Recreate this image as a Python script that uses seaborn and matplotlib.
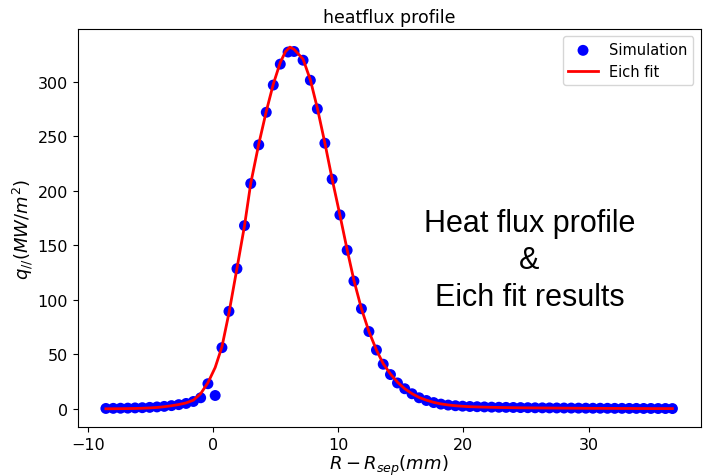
import matplotlib
matplotlib.use("Agg")
import matplotlib.pyplot as plt
import seaborn as sns
import pandas as pd

# Simulation points (R - Rsep in mm, q_parallel in MW/m^2)
sim_x = [-8.55, -7.96, -7.38, -6.80, -6.22, -5.64, -5.05, -4.47, -3.89, -3.31,
         -2.73, -2.14, -1.56, -0.98, -0.40, 0.18, 0.72, 1.28, 1.92, 2.52,
         3.02, 3.66, 4.26, 4.82, 5.38, 6.00, 6.48, 7.20, 7.78, 8.34,
         8.94, 9.52, 10.14, 10.72, 11.26, 11.86, 12.46, 13.06, 13.60, 14.18,
         14.74, 15.32, 15.90, 16.47, 17.05, 17.63, 18.21, 18.79, 19.37, 19.94,
         20.52, 21.10, 21.68, 22.26, 22.84, 23.41, 23.99, 24.57, 25.15, 25.73,
         26.31, 26.88, 27.46, 28.04, 28.62, 29.20, 29.78, 30.35, 30.93, 31.51,
         32.09, 32.67, 33.25, 33.82, 34.40, 34.98, 35.56, 36.14, 36.70]
sim_q = [0.4, 0.5, 0.6, 0.7, 0.9, 1.1, 1.4, 1.8, 2.3, 3.0,
         3.9, 5.0, 6.8, 10.2, 23.1, 12.3, 56.2, 89.5, 128.7, 168.2,
         206.8, 242.3, 272.2, 297.2, 316.4, 327.5, 328.0, 320.0, 301.6, 275.3,
         243.8, 210.8, 178.0, 145.6, 117.3, 91.9, 71.0, 54.0, 41.0, 31.5,
         23.8, 18.5, 13.9, 10.2, 7.7, 5.8, 4.4, 3.5, 2.9, 2.5,
         2.2, 2.0, 1.8, 1.6, 1.5, 1.4, 1.3, 1.2, 1.1, 1.0,
         0.95, 0.9, 0.85, 0.8, 0.75, 0.7, 0.65, 0.6, 0.6, 0.55,
         0.5, 0.5, 0.45, 0.45, 0.4, 0.4, 0.35, 0.35, 0.3]

# Eich fit curve
fit_x = [-8.55, -7.96, -7.38, -6.80, -6.22, -5.64, -5.05, -4.47, -3.89, -3.31,
         -2.73, -2.14, -1.56, -0.98, -0.40, 0.18, 0.72, 1.28, 1.92, 2.52,
         3.02, 3.66, 4.26, 4.82, 5.38, 5.80, 6.15, 6.48, 7.20, 7.78, 8.34,
         8.94, 9.52, 10.14, 10.72, 11.26, 11.86, 12.46, 13.06, 13.60, 14.18,
         14.74, 15.32, 15.90, 16.47, 17.05, 17.63, 18.21, 18.79, 19.37, 19.94,
         20.52, 21.10, 21.68, 22.26, 22.84, 23.41, 23.99, 24.57, 25.15, 25.73,
         26.31, 26.88, 27.46, 28.04, 28.62, 29.20, 29.78, 30.35, 30.93, 31.51,
         32.09, 32.67, 33.25, 33.82, 34.40, 34.98, 35.56, 36.14, 36.70]
fit_q = [0.1, 0.15, 0.2, 0.3, 0.4, 0.6, 0.9, 1.3, 2.0, 2.9,
         4.0, 5.5, 8.0, 14.0, 24.0, 38.0, 57.0, 88.0, 129.0, 168.0,
         207.0, 243.0, 273.0, 298.0, 318.0, 328.0, 332.0, 330.0, 321.0, 302.0, 276.0,
         244.0, 211.0, 178.0, 146.0, 118.0, 92.0, 71.0, 54.0, 41.5, 32.0,
         24.5, 18.5, 14.0, 10.5, 8.0, 6.0, 4.6, 3.6, 2.9, 2.4,
         2.0, 1.8, 1.6, 1.45, 1.3, 1.2, 1.1, 1.0, 0.95, 0.9,
         0.85, 0.8, 0.75, 0.7, 0.65, 0.6, 0.55, 0.5, 0.5, 0.45,
         0.45, 0.4, 0.4, 0.35, 0.35, 0.3, 0.3, 0.3, 0.3]

title = "heatflux profile"
x_label = r"$R - R_{sep}(mm)$"
y_label = r"$q_{//}(MW/m^2)$"
note = "Heat flux profile\n&\nEich fit results"

sim_df = pd.DataFrame({"x": sim_x, "q": sim_q})
fit_df = pd.DataFrame({"x": fit_x, "q": fit_q})

fig = plt.figure(figsize=(7.05, 4.77), dpi=100)
ax = fig.add_axes([0.110, 0.103, 0.884, 0.834])

sns.scatterplot(data=sim_df, x="x", y="q", ax=ax, color="blue", s=62,
                edgecolor="none", label="Simulation", zorder=2)
sns.lineplot(data=fit_df, x="x", y="q", ax=ax, color="red", linewidth=2,
             label="Eich fit", zorder=3, sort=False)

ax.set_title(title, fontsize=12.5, pad=5)
ax.set_xlabel(x_label, fontsize=13, labelpad=1)
ax.set_ylabel(y_label, fontsize=13, labelpad=2)
ax.tick_params(labelsize=11.5)
ax.set_xticks([-10, 0, 10, 20, 30])
ax.set_yticks([0, 50, 100, 150, 200, 250, 300])
ax.margins(x=0.05, y=0.05)

ax.legend(loc="upper right", fontsize=10.5)

ax.text(0.725, 0.42, note, transform=ax.transAxes, ha="center", va="center",
        fontsize=22, family="Liberation Sans", linespacing=1.3)

fig.savefig("out.png", dpi=100)
